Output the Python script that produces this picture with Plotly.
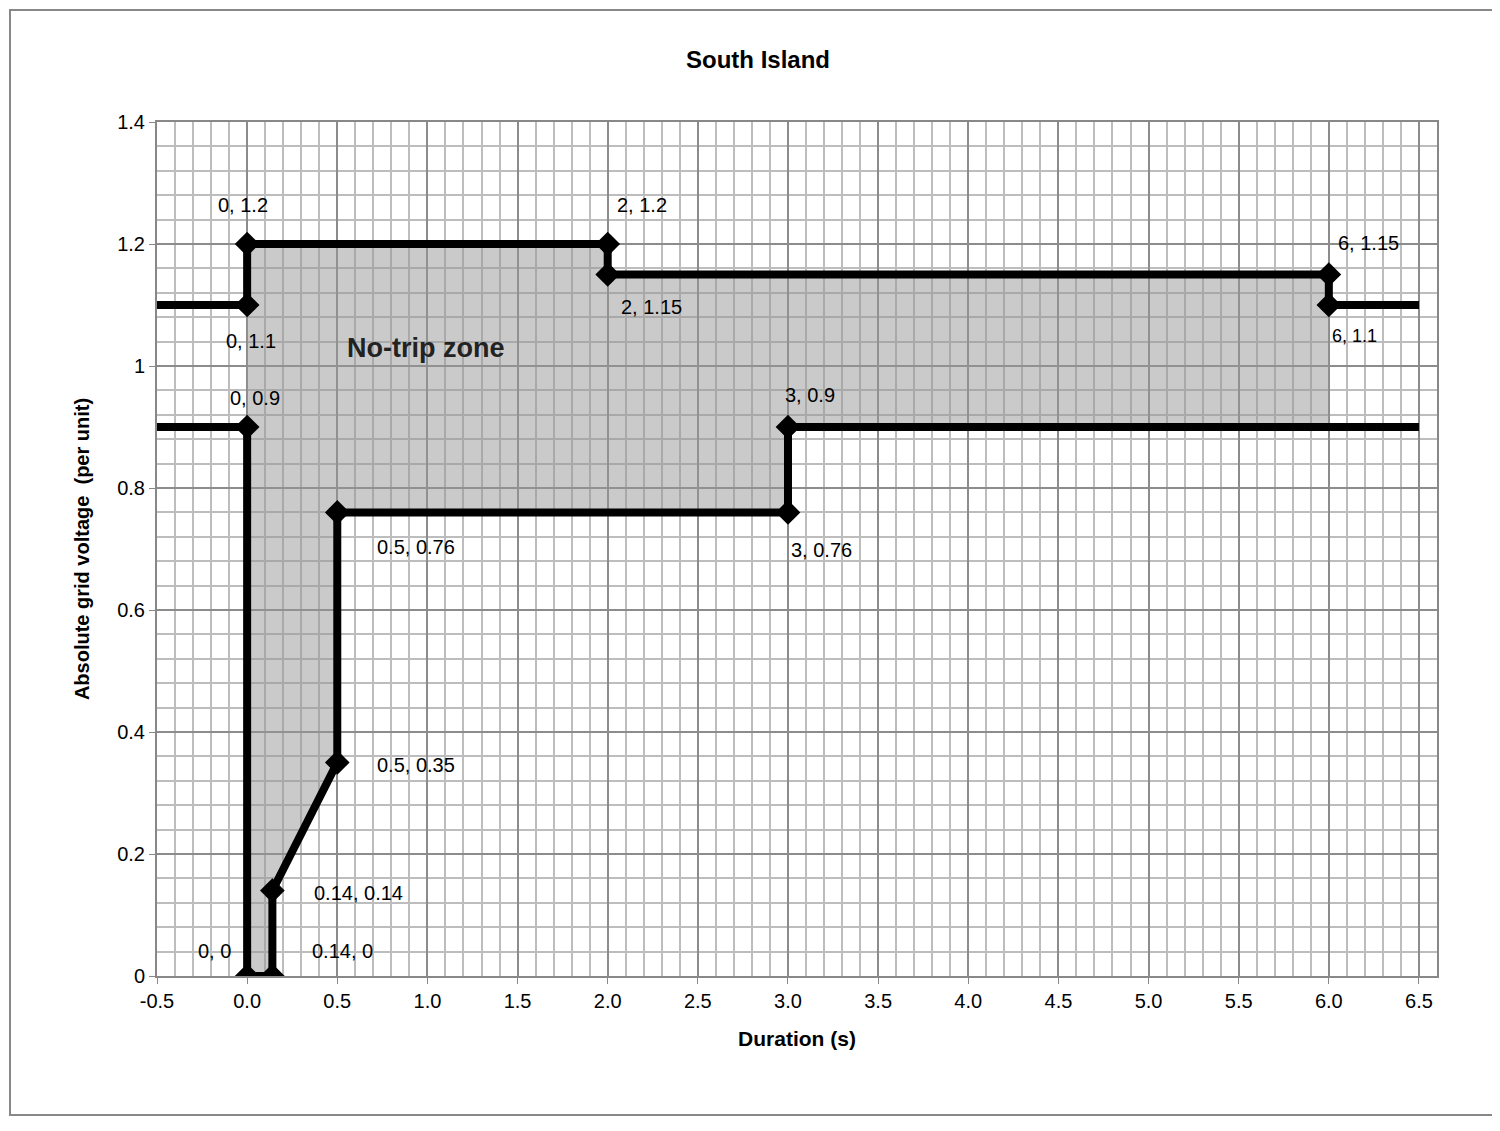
import plotly.graph_objects as go

upper_x = [-0.5, 0, 0, 2, 2, 6, 6, 6.5]
upper_y = [1.1, 1.1, 1.2, 1.2, 1.15, 1.15, 1.1, 1.1]
lower_x = [-0.5, 0, 0, 0.14, 0.14, 0.5, 0.5, 3, 3, 6.5]
lower_y = [0.9, 0.9, 0, 0, 0.14, 0.35, 0.76, 0.76, 0.9, 0.9]

pt_x = [0, 2, 2, 6, 6, 0, 0, 3, 3, 0.5, 0.5, 0.14, 0.14, 0]
pt_y = [1.2, 1.2, 1.15, 1.15, 1.1, 1.1, 0.9, 0.9, 0.76, 0.76, 0.35, 0.14, 0, 0]
x_tickvals = [-0.5, 0, 0.5, 1, 1.5, 2, 2.5, 3, 3.5, 4, 4.5, 5, 5.5, 6, 6.5]
x_ticktext = ["-0.5", "0.0", "0.5", "1.0", "1.5", "2.0", "2.5", "3.0", "3.5",
              "4.0", "4.5", "5.0", "5.5", "6.0", "6.5"]
# label pixel offsets (style)
off = [(-4, -39), (34, -39), (44, 32), (40, -32), (26, 31), (4, 36), (8, -29),
       (22, -32), (34, 38), (79, 35), (79, 2), (86, 2), (70, -25), (-33, -25)]

def fmt(v):
    return ("%g" % v)

W, H = 1500, 1131
S = 8  # body margin offset
L, R, T, B = 157 - S, 63 + S, 122 - S, 155 + S
X0, X1 = -0.5, 6.6

fig = go.Figure()
fx = upper_x[1:-1] + [6] + [x for x in lower_x[1:-1]][::-1][:-1]
fy = upper_y[1:-1] + [0.9] + [y for y in lower_y[1:-1]][::-1][:-1]
fig.add_trace(go.Scatter(x=fx, y=fy, fill="toself", fillcolor="rgba(150,150,150,0.5)",
                         line=dict(width=0), mode="lines", hoverinfo="skip"))
for xs, ys in [(upper_x, upper_y), (lower_x, lower_y)]:
    fig.add_trace(go.Scatter(x=xs, y=ys, mode="lines", line=dict(color="black", width=8)))
fig.add_trace(go.Scatter(x=pt_x, y=pt_y, mode="markers",
                         marker=dict(symbol="diamond", size=19, color="black")))

for x, y, (dx, dy) in zip(pt_x, pt_y, off):
    fig.add_annotation(x=x, y=y, text=f"{fmt(x)}, {fmt(y)}", showarrow=False,
                       xshift=dx, yshift=-dy,
                       font=dict(size=18 if (x, y) == (6, 1.1) else 20, color="black",
                                 family="Liberation Sans"))
fig.add_annotation(x=0.99, y=1.03, text="<b>No-trip zone</b>", showarrow=False,
                   font=dict(size=27, color="#222", family="Liberation Sans"))

pw, ph = W - L - R, H - T - B
bx0, bx1, by0, by1 = 10 - S, 1494 - S, 10 - S, 1115 - S
fig.add_shape(type="rect", xref="paper", yref="paper",
              x0=(bx0 - L) / pw, x1=(bx1 - L) / pw, y0=(H - B - by1) / ph, y1=(H - B - by0) / ph,
              line=dict(color="#888", width=2), layer="below")

fig.update_layout(
    width=W, height=H, margin=dict(l=L, r=R, t=T, b=B), showlegend=False,
    plot_bgcolor="white", paper_bgcolor="white",
    font=dict(family="Liberation Sans", size=20, color="black"),
    title=dict(text="<b>South Island</b>", x=0.5, xanchor="center", y=1 - (60 - S) / H,
               yanchor="middle", font=dict(size=24)),
)
fig.update_xaxes(range=[X0, X1], tickvals=x_tickvals, ticktext=x_ticktext,
                 showgrid=True, gridcolor="#8c8c8c", gridwidth=2,
                 minor=dict(dtick=0.1, tick0=-0.5, showgrid=True, gridcolor="#bdbdbd", gridwidth=2),
                 zeroline=False, showline=True, linecolor="#888", linewidth=2, mirror=True,
                 ticks="outside", ticklen=6, tickcolor="#888",
                 title=dict(text="<b>Duration (s)</b>", font=dict(size=21), standoff=20))
fig.update_yaxes(range=[0, 1.4], dtick=0.2, showgrid=True, gridcolor="#8c8c8c", gridwidth=2,
                 minor=dict(dtick=0.04, showgrid=True, gridcolor="#bdbdbd", gridwidth=2),
                 zeroline=False, showline=True, linecolor="#888", linewidth=2, mirror=True,
                 ticks="outside", ticklen=6, tickcolor="#888",
                 title=dict(text="<b>Absolute grid voltage  (per unit)</b>", font=dict(size=20), standoff=22))
fig.write_html("out.html")
